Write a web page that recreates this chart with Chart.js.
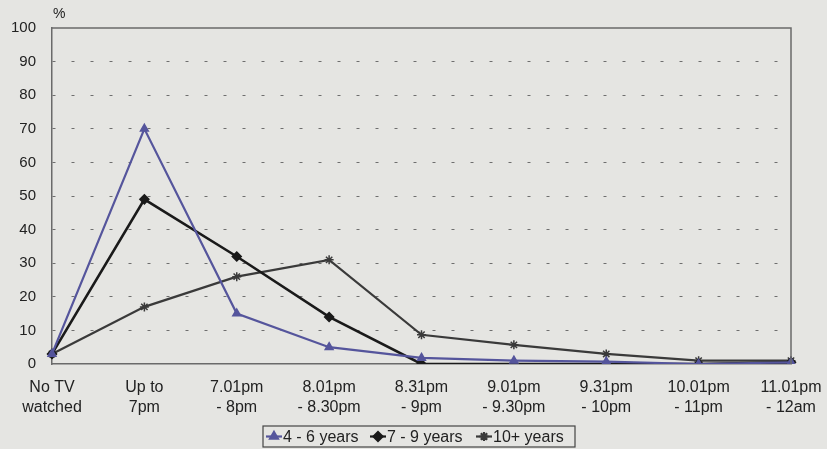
<!DOCTYPE html>
<html>
<head>
<meta charset="utf-8">
<script src="https://cdn.jsdelivr.net/npm/chart.js@4/dist/chart.umd.min.js"></script>
<style>
  html, body { margin: 0; padding: 0; background: #e5e5e2; }
  #wrap { width: 827px; height: 449px; position: relative; }
</style>
</head>
<body>
<div id="wrap"><canvas id="plot" width="827" height="449"></canvas></div>
<script>
const categories = [
  ['No TV', 'watched'], ['Up to', '7pm'], ['7.01pm', '- 8pm'], ['8.01pm', '- 8.30pm'],
  ['8.31pm', '- 9pm'], ['9.01pm', '- 9.30pm'], ['9.31pm', '- 10pm'], ['10.01pm', '- 11pm'], ['11.01pm', '- 12am']
]
const age4to6 = [3, 70, 15, 5, 1.8, 1, 0.7, 0, 0.5]
const age7to9 = [3, 49, 32, 14, 0, 0, 0, 0, 0.5]
const age10plus = [3, 17, 26, 31, 8.7, 5.7, 3, 1, 1]
const yTicks = [0, 10, 20, 30, 40, 50, 60, 70, 80, 90, 100]

const FONT = 'Liberation Sans, Arial, sans-serif'

// background, frame, % label and the legend box
const decor = {
  id: 'decor',
  beforeDraw(chart){
    const c = chart.ctx
    c.save()
    c.fillStyle = '#e5e5e2'
    c.fillRect(0, 0, chart.width, chart.height)
    c.restore()
  },
  afterDraw(chart){
    const c = chart.ctx
    const a = chart.chartArea
    c.save()
    c.strokeStyle = '#6a6a6a'
    c.lineWidth = 1.5
    c.beginPath()
    c.moveTo(a.left, a.top); c.lineTo(a.right, a.top); c.lineTo(a.right, a.bottom)
    c.stroke()
    c.fillStyle = '#222'
    c.font = '14px ' + FONT
    c.textBaseline = 'middle'
    c.fillText('%', a.left + 1, 14)

    // legend
    const lx = 263, ly = 426, lw = 312, lh = 21
    c.strokeStyle = '#444'
    c.lineWidth = 1.2
    c.strokeRect(lx, ly, lw, lh)
    const items = [
      {ds: 0, x: 266, text: '4 - 6 years'},
      {ds: 1, x: 370, text: '7 - 9 years'},
      {ds: 2, x: 476, text: '10+ years'}
    ]
    const cy = ly + lh / 2
    items.forEach(it => {
      const ds = chart.data.datasets[it.ds]
      c.strokeStyle = ds.borderColor
      c.fillStyle = ds.borderColor
      c.lineWidth = 2.2
      c.beginPath(); c.moveTo(it.x, cy); c.lineTo(it.x + 16, cy); c.stroke()
      Chart.helpers.drawPoint(c, {pointStyle: ds.pointStyle, radius: 4.5, borderWidth: 1.5}, it.x + 8, cy)
      c.fillStyle = '#222'
      c.font = '16px ' + FONT
      c.fillText(it.text, it.x + 17, cy + 1)
    })
    c.restore()
  }
}

const mkSet = (label, data, color, style, width) => ({
  label, data,
  borderColor: color, backgroundColor: color,
  pointStyle: style, pointRadius: 4.5, pointBorderWidth: 1.5,
  borderWidth: width, tension: 0
})

new Chart(document.getElementById('plot'), {
  type: 'line',
  data: {
    labels: categories,
    datasets: [
      mkSet('4 - 6 years', age4to6, '#55559c', 'triangle', 2.2),
      mkSet('7 - 9 years', age7to9, '#1a1a1a', 'rectRot', 2.6),
      mkSet('10+ years', age10plus, '#3a3a3a', 'star', 2.2)
    ]
  },
  options: {
    responsive: false,
    animation: false,
    devicePixelRatio: 1,
    layout: { padding: { top: 28, right: 36, left: 0, bottom: 0 } },
    plugins: { legend: { display: false }, tooltip: { enabled: false } },
    scales: {
      x: {
        offset: false,
        afterFit: s => { s.height = 85; s.paddingLeft = 0; s.paddingRight = 0 },
        grid: { display: false, drawTicks: false },
        border: { color: '#6a6a6a', width: 1.5 },
        ticks: { color: '#222', padding: 14, maxRotation: 0, autoSkip: false,
          font: { family: FONT, size: 16, lineHeight: 1.25 } }
      },
      y: {
        min: 0, max: 100,
        afterFit: s => { s.width = 52; s.paddingTop = 0; s.paddingBottom = 0 },
        afterBuildTicks: s => { s.ticks = yTicks.map(v => ({value: v})) },
        grid: {
          drawTicks: false,
          color: ctx => (ctx.tick.value === 0 || ctx.tick.value === 100) ? 'rgba(0,0,0,0)' : '#6e6e6e',
          lineWidth: 1
        },
        border: { color: '#6a6a6a', width: 1.5, dash: [3, 16] },
        ticks: { color: '#222', padding: 16, font: { family: FONT, size: 15 } }
      }
    }
  },
  plugins: [decor]
})
</script>
</body>
</html>
